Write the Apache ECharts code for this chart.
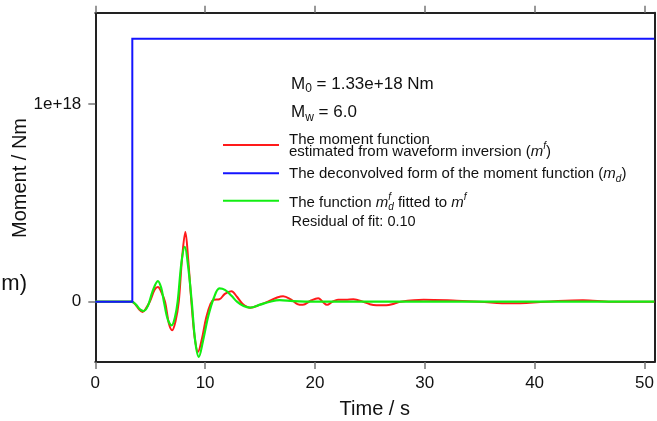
<!DOCTYPE html>
<html>
<head>
<meta charset="utf-8">
<script src="https://cdn.jsdelivr.net/npm/echarts@6/dist/echarts.min.js"></script>
<style>
  html, body { margin: 0; padding: 0; background: #fff; }
  #chart { width: 657px; height: 421px; }
</style>
</head>
<body>
<div id="chart"></div>
<script>
const FONT = '"Liberation Sans", Arial, Helvetica, sans-serif';

// Axis ticks
const xTicks = [0, 10, 20, 30, 40, 50];
const yTicks = [0, 1e18];
const yTickLabels = ['0', '1e+18'];

// Scalar moment and onset of the deconvolved step
const stepTime = 3.37;
const scalarMoment = 1.33e18;
const endTime = 50.9;

// Deconvolved moment function (step)
const deconvolvedTime = [0, stepTime, stepTime, endTime];
const deconvolvedMoment = [0, 0, scalarMoment, scalarMoment];

// Moment function from waveform inversion (m^f), time in s, moment in Nm
const estimatedTime = [0, 3.3, 3.6, 4.0, 4.3, 4.6, 5.0, 5.4, 5.7, 6.0, 6.35, 6.7, 7.0, 7.3, 7.6, 7.9, 8.2, 8.45, 8.75, 9.05, 9.35, 9.7, 10.1, 10.5, 10.8, 11.3, 11.8, 12.4, 12.9, 13.4, 14.1, 15.0, 15.9, 16.5, 17.1, 17.8, 18.4, 18.9, 19.6, 20.3, 20.7, 21.1, 21.6, 22.1, 22.8, 23.5, 24.4, 25.0, 25.6, 26.5, 27.2, 27.8, 29.9, 32.9, 35.0, 37.8, 41.0, 44.4, 47.0, 50.9];
const estimatedMoment = [0, 0, -0.01e18, -0.04e18, -0.052e18, -0.035e18, 0.005e18, 0.06e18, 0.075e18, 0.05e18, 0, -0.11e18, -0.144e18, -0.1e18, 0, 0.22e18, 0.353e18, 0.22e18, 0, -0.18e18, -0.254e18, -0.19e18, -0.08e18, -0.01e18, 0.01e18, 0.012e18, 0.04e18, 0.053e18, 0.025e18, -0.01e18, -0.03e18, -0.015e18, 0.005e18, 0.02e18, 0.028e18, 0.012e18, -0.012e18, -0.016e18, 0.005e18, 0.018e18, 0, -0.016e18, 0, 0.01e18, 0.01e18, 0.013e18, 0, -0.013e18, -0.018e18, -0.018e18, -0.01e18, 0, 0.01e18, 0.005e18, 0, -0.008e18, 0, 0.008e18, 0, 0];

// Fitted function m_d^f
const fittedTime = [0, 3.3, 3.7, 4.1, 4.4, 4.8, 5.2, 5.7, 6.0, 6.25, 6.6, 6.95, 7.25, 7.5, 7.85, 8.15, 8.45, 8.78, 9.1, 9.43, 9.8, 10.3, 10.8, 11.3, 11.8, 12.4, 12.9, 13.5, 14.1, 15.0, 15.9, 16.8, 18.0, 20.0, 50.9];
const fittedMoment = [0, 0, -0.015e18, -0.04e18, -0.047e18, -0.02e18, 0.05e18, 0.104e18, 0.07e18, 0, -0.09e18, -0.12e18, -0.08e18, 0, 0.2e18, 0.277e18, 0.18e18, 0, -0.2e18, -0.279e18, -0.2e18, -0.07e18, 0.02e18, 0.067e18, 0.06e18, 0.03e18, 0, -0.022e18, -0.03e18, -0.015e18, 0, 0.008e18, 0.003e18, 0, 0];

const zip = (xs, ys) => xs.map((x, i) => [x, ys[i]]);

// Text layout helper: runs of text with italics, sub- and superscripts
const measureCtx = document.createElement('canvas').getContext('2d');
function textRun(x, y, parts, color) {
  const out = [];
  let cx = x;
  let held = 0;
  parts.forEach(p => {
    const fontStyle = p.italic ? 'italic' : 'normal';
    measureCtx.font = fontStyle + ' ' + p.size + 'px ' + FONT;
    const w = measureCtx.measureText(p.t).width;
    out.push({
      type: 'text',
      x: cx + (p.dx || 0),
      y: y + (p.dy || 0),
      silent: true,
      style: {
        text: p.t,
        fontSize: p.size,
        fontStyle: fontStyle,
        fontFamily: FONT,
        fill: color || '#111',
        align: 'left',
        verticalAlign: 'middle'
      }
    });
    if (p.hold) {
      held = Math.max(held, w);
    } else {
      cx += Math.max(w, held);
      held = 0;
    }
  });
  return out;
}

function swatch(y, color) {
  return {
    type: 'line', silent: true,
    shape: { x1: 223, y1: y, x2: 279, y2: y },
    style: { stroke: color, lineWidth: 2 }
  };
}

const LS = 15;   // legend font size
const graphics = [].concat(
  textRun(291, 84, [
    { t: 'M', size: 17 }, { t: '0', size: 12, dy: 5 }, { t: ' = 1.33e+18 Nm', size: 17 }
  ]),
  textRun(291, 112.5, [
    { t: 'M', size: 17 }, { t: 'w', size: 12, dy: 5 }, { t: ' = 6.0', size: 17 }
  ]),
  [swatch(145, '#ff1a1a'), swatch(173.3, '#1414ff'), swatch(200.7, '#12ee12')],
  textRun(289, 140, [{ t: 'The moment function', size: LS }]),
  textRun(289, 151.5, [
    { t: 'estimated from waveform inversion (', size: LS },
    { t: 'm', size: LS, italic: true }, { t: 'f', size: 10, italic: true, dy: -5 },
    { t: ')', size: LS }
  ]),
  textRun(289, 174, [
    { t: 'The deconvolved form of the moment function (', size: LS },
    { t: 'm', size: LS, italic: true }, { t: 'd', size: 10, italic: true, dy: 5 },
    { t: ')', size: LS }
  ]),
  textRun(289, 202.5, [
    { t: 'The function ', size: LS },
    { t: 'm', size: LS, italic: true },
    { t: 'd', size: 10, italic: true, dy: 5, hold: true },
    { t: 'f', size: 10, italic: true, dy: -5 },
    { t: ' fitted to ', size: LS },
    { t: 'm', size: LS, italic: true }, { t: 'f', size: 10, italic: true, dy: -5 }
  ]),
  textRun(291.5, 221.5, [{ t: 'Residual of fit: 0.10', size: 14.5 }]),
  [
    {
      type: 'text', silent: true, x: 20, y: 178, rotation: Math.PI / 2,
      style: { text: 'Moment / Nm', fontSize: 20, fontFamily: FONT, fill: '#111', align: 'center', verticalAlign: 'middle' }
    },
    {
      type: 'text', silent: true, x: 27, y: 284,
      style: { text: 'm)', fontSize: 22, fontFamily: FONT, fill: '#111', align: 'right', verticalAlign: 'middle' }
    }
  ]
);

const axisLineStyle = { color: '#222', width: 2 };
const tickStyle = { color: '#777', width: 1.5 };

const chart = echarts.init(document.getElementById('chart'), null, { renderer: 'canvas' });
chart.setOption({
  animation: false,
  backgroundColor: '#fff',
  textStyle: { fontFamily: FONT },
  grid: { left: 95.3, right: 2.7, top: 12.7, bottom: 59, containLabel: false, outerBoundsMode: 'none' },
  xAxis: [
    {
      type: 'value', position: 'bottom', min: 0, max: endTime,
      axisLine: { onZero: false, lineStyle: axisLineStyle },
      axisTick: { customValues: xTicks, length: 7, lineStyle: tickStyle },
      axisLabel: { customValues: xTicks, fontSize: 17, color: '#111', margin: 13, fontFamily: FONT },
      splitLine: { show: false },
      name: 'Time / s', nameLocation: 'middle', nameGap: 37,
      nameTextStyle: { fontSize: 20, color: '#111', fontFamily: FONT }
    },
    {
      type: 'value', position: 'top', min: 0, max: endTime,
      axisLine: { onZero: false, lineStyle: axisLineStyle },
      axisTick: { customValues: xTicks, length: 7, lineStyle: tickStyle },
      axisLabel: { show: false },
      splitLine: { show: false }
    }
  ],
  yAxis: [
    {
      type: 'value', position: 'left', min: -0.305e18, max: 1.462e18,
      axisLine: { onZero: false, lineStyle: axisLineStyle },
      axisTick: { customValues: yTicks, length: 7, lineStyle: tickStyle },
      axisLabel: {
        customValues: yTicks, fontSize: 17, color: '#111', margin: 14, fontFamily: FONT,
        formatter: v => yTickLabels[yTicks.indexOf(v)] ?? ''
      },
      splitLine: { show: false }
    },
    {
      type: 'value', position: 'right', min: -0.305e18, max: 1.462e18,
      axisLine: { show: true, onZero: false, lineStyle: axisLineStyle },
      axisTick: { show: false },
      axisLabel: { show: false },
      splitLine: { show: false }
    }
  ],
  series: [
    {
      name: 'estimated', type: 'line', data: zip(estimatedTime, estimatedMoment),
      showSymbol: false, smooth: 0.35, clip: true, z: 2,
      lineStyle: { color: '#ff1a1a', width: 2 }
    },
    {
      name: 'fitted', type: 'line', data: zip(fittedTime, fittedMoment),
      showSymbol: false, smooth: 0.35, clip: true, z: 3,
      lineStyle: { color: '#12ee12', width: 2.2 }
    },
    {
      name: 'deconvolved', type: 'line', data: zip(deconvolvedTime, deconvolvedMoment),
      showSymbol: false, smooth: false, clip: true, z: 4,
      lineStyle: { color: '#1414ff', width: 2, join: 'miter' }
    }
  ],
  graphic: graphics
});
</script>
</body>
</html>
